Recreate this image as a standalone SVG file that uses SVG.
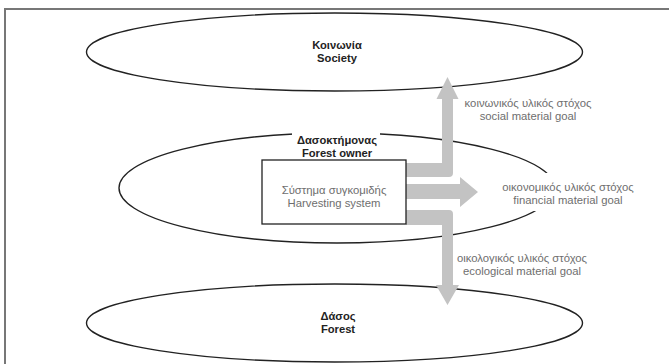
<svg xmlns="http://www.w3.org/2000/svg" width="669" height="364" viewBox="0 0 669 364">
<style>
.ell{fill:none;stroke:#222;stroke-width:1.4}
.hd{font-family:"Liberation Sans",Arial,sans-serif;font-size:11.2px;font-weight:bold;fill:#222;text-anchor:middle}
.lb{font-family:"Liberation Sans",Arial,sans-serif;font-size:11.3px;fill:#6e6e6e;text-anchor:middle}
.arr{fill:#c3c3c3;stroke:none}
.bg{fill:#fff;stroke:none}
</style>
<rect x="0" y="0" width="669" height="364" fill="#fff"/>
<rect x="5" y="9" width="670" height="360" fill="none" stroke="#777" stroke-width="2"/>
<g id="society">
<ellipse class="ell" cx="334.5" cy="52" rx="248" ry="39"/>
<text class="hd" x="337" y="49">Κοινωνία</text>
<text class="hd" x="337" y="62">Society</text>
</g>
<g id="forest-owner">
<ellipse class="ell" cx="337" cy="188" rx="218" ry="55"/>
<rect class="bg" x="292" y="130" width="88" height="28"/>
<text class="hd" x="337" y="144">Δασοκτήμονας</text>
<text class="hd" x="337" y="157">Forest owner</text>
</g>
<g id="forest">
<ellipse class="ell" cx="334.5" cy="323" rx="248" ry="39"/>
<text class="hd" x="338" y="320">Δάσος</text>
<text class="hd" x="338" y="333">Forest</text>
</g>
<g id="connectors">
<path class="arr" d="M406,163 L442,163 L442,99 L436.5,99 L447.5,77 L458.5,99 L453,99 L453,173 Q453,177 449,177 L406,177 Z"/>
<path class="arr" d="M406,184 L460,184 L460,177 L478,192 L460,207 L460,199 L406,199 Z"/>
<path class="arr" d="M406,210 L449,210 Q453,210 453,214 L453,285 L459,285 L447.5,305 L436,285 L442,285 L442,225 L406,225 Z"/>
</g>
<g id="harvesting-system">
<rect x="262" y="160" width="144" height="64" fill="#fff" stroke="#222" stroke-width="1.3"/>
<text class="lb" x="334" y="194">Σύστημα συγκομιδής</text>
<text class="lb" x="334" y="207">Harvesting system</text>
</g>
<g id="social-goal">
<text class="lb" x="528" y="107">κοινωνικός υλικός στόχος</text>
<text class="lb" x="528" y="120">social material goal</text>
</g>
<g id="financial-goal">
<rect class="bg" x="497" y="173" width="143" height="38"/>
<text class="lb" x="568" y="191">οικονομικός υλικός στόχος</text>
<text class="lb" x="568" y="204">financial material goal</text>
</g>
<g id="ecological-goal">
<text class="lb" x="522" y="262">οικολογικός υλικός στόχος</text>
<text class="lb" x="522" y="275">ecological material goal</text>
</g>
</svg>
